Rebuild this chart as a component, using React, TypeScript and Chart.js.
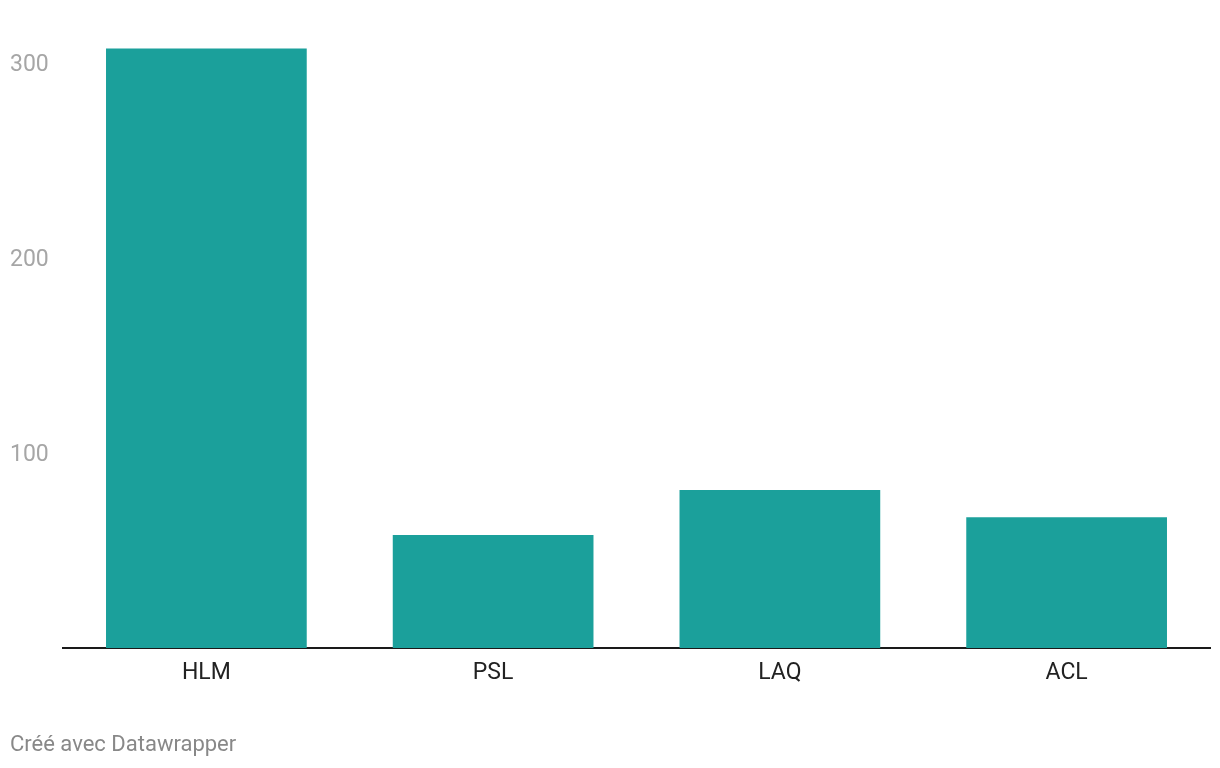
import React, { useEffect, useRef } from "react";
import { Chart, registerables } from "chart.js";

Chart.register(...registerables);

const categories = ["HLM", "PSL", "LAQ", "ACL"];
const values = [307.5, 58, 81, 67];
const yTicks = [100, 200, 300];
const footerText = "Créé avec Datawrapper";

export default function App() {
  const ref = useRef<HTMLCanvasElement | null>(null);

  useEffect(() => {
    document.body.style.margin = "0";
    const ctx = ref.current!.getContext("2d")!;
    const chart = new Chart(ctx, {
      type: "bar",
      data: {
        labels: categories,
        datasets: [
          {
            data: values,
            backgroundColor: "#1ba09b",
            categoryPercentage: 1,
            barPercentage: 0.7,
          },
        ],
      },
      options: {
        animation: false,
        responsive: false,
        maintainAspectRatio: false,
        layout: { padding: { top: 24, right: 10, bottom: 0, left: 10 } },
        plugins: { legend: { display: false }, tooltip: { enabled: false } },
        scales: {
          x: {
            grid: { display: false, drawTicks: false },
            border: { display: true, color: "#1a1a1a", width: 2 },
            ticks: {
              color: "#222",
              font: { family: "Roboto", size: 23 },
              padding: 11,
            },
            afterFit: (s: any) => {
              s.height = 120;
            },
          },
          y: {
            min: 0,
            max: 320,
            grid: { display: false, drawTicks: false },
            border: { display: false },
            afterBuildTicks: (s: any) => {
              s.ticks = yTicks.map((v) => ({ value: v }));
            },
            ticks: {
              color: "#a6a6a6",
              crossAlign: "far",
              padding: 0,
              labelOffset: 2,
              font: { family: "Roboto", size: 23 },
            },
            afterFit: (s: any) => {
              s.width = 53;
            },
          },
        },
      },
    });
    return () => chart.destroy();
  }, []);

  return (
    <div style={{ position: "relative", width: 1220, height: 768, background: "#fff" }}>
      <canvas ref={ref} width={1220} height={768} style={{ display: "block" }} />
      <div
        style={{
          position: "absolute",
          left: 10,
          top: 731,
          fontFamily: "Roboto",
          fontSize: 22,
          color: "#888",
          lineHeight: "26px",
        }}
      >
        {footerText}
      </div>
    </div>
  );
}
